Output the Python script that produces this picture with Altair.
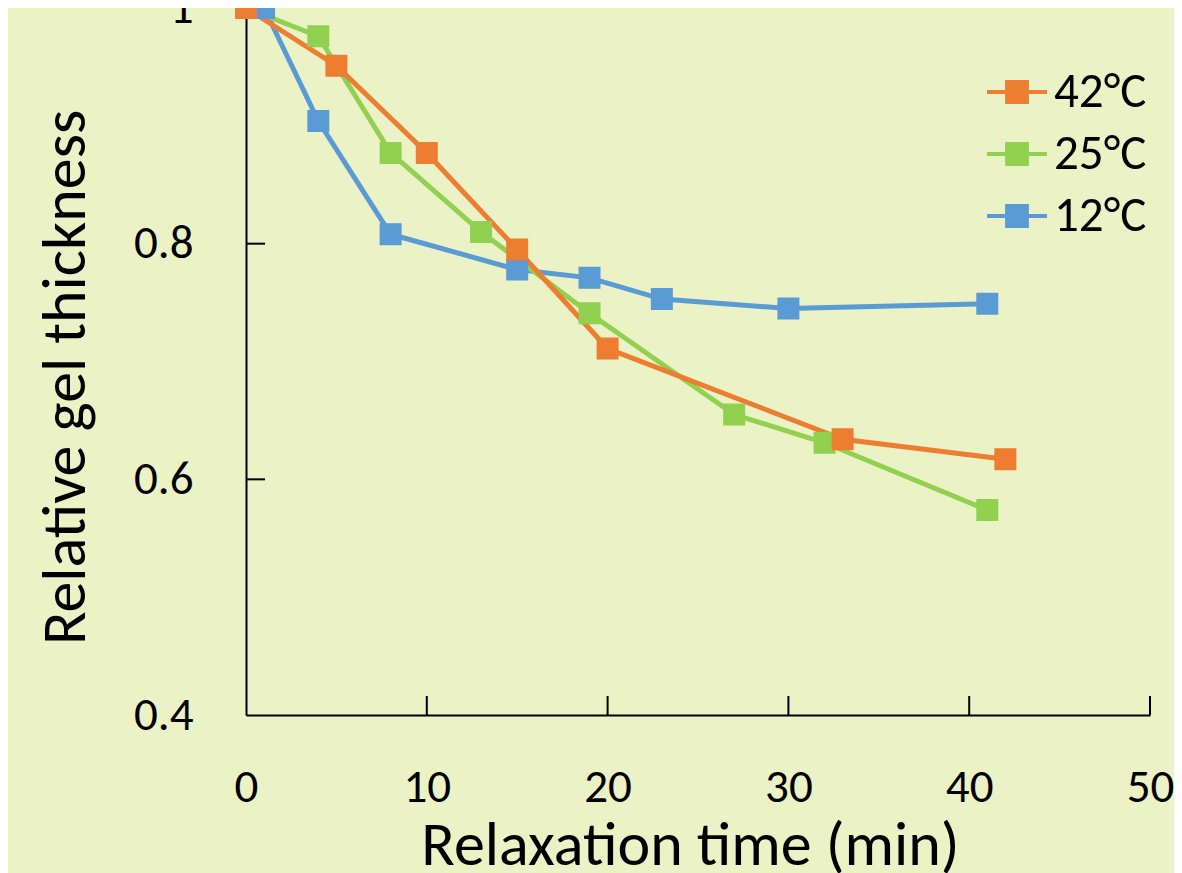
import altair as alt
import pandas as pd

series_names = ["42°C", "25°C", "12°C"]
series_colors = ["#ED7D31", "#92D050", "#5B9BD5"]

t42 = [0, 5, 10, 15, 20, 33, 42]
v42 = [1.0, 0.951, 0.877, 0.795, 0.711, 0.634, 0.617]
t25 = [0, 4, 8, 13, 19, 27, 32, 41]
v25 = [1.0, 0.976, 0.877, 0.810, 0.741, 0.655, 0.631, 0.574]
t12 = [1, 4, 8, 15, 19, 23, 30, 41]
v12 = [1.0, 0.904, 0.808, 0.778, 0.771, 0.753, 0.745, 0.749]

x_ticks = [0, 10, 20, 30, 40, 50]
y_ticks = [0.4, 0.6, 0.8, 1.0]

rows = []
for order, (name, ts, vs) in enumerate([("12°C", t12, v12), ("25°C", t25, v25), ("42°C", t42, v42)]):
    for t, v in zip(ts, vs):
        rows.append({"series": name, "t": t, "v": v, "ord": order})
df = pd.DataFrame(rows)

FONT = "Carlito, Calibri, Lato"
W, H = 904, 707
X0, X1 = 0, 50
Y0, Y1 = 0.4, 1.0
tick_len_px = 19
dx = tick_len_px * (X1 - X0) / W
dy = tick_len_px * (Y1 - Y0) / H

xs = alt.Scale(domain=[X0, X1], nice=False)
ys = alt.Scale(domain=[Y0, Y1], nice=False)
col = alt.Scale(domain=series_names, range=series_colors)

sym_path = "M-1,0L1,0M-0.33,-0.33L0.33,-0.33L0.33,0.33L-0.33,0.33Z"

legend = alt.Legend(
    title=None, orient="none", legendX=739, legendY=52,
    symbolType=sym_path, symbolSize=3600, symbolStrokeWidth=4,
    labelFont=FONT, labelFontSize=49, labelColor="black", labelOffset=5,
    rowPadding=5, padding=0,
)

x_axis = alt.Axis(
    values=x_ticks, ticks=False, tickSize=0, grid=False, labelFlush=False,
    domainColor="black", domainWidth=2,
    labelFont=FONT, labelFontSize=47, labelColor="black",
    labelPadding=86, labelBaseline="alphabetic",
    title="Relaxation time (min)", titleFont=FONT, titleFontSize=62,
    titleFontWeight="normal", titleColor="black",
    titleX=444, titleY=149, titleBaseline="alphabetic", titleAlign="center",
)
y_axis = alt.Axis(
    values=y_ticks, format="~g", ticks=False, tickSize=0, grid=False, labelFlush=False,
    domainColor="black", domainWidth=2,
    labelFont=FONT, labelFontSize=47, labelColor="black", labelPadding=53,
    title="Relative gel thickness", titleFont=FONT, titleFontSize=62,
    titleFontWeight="normal", titleColor="black",
    titleX=-181, titleY=369, titleAngle=270, titleBaseline="middle", titleAlign="center",
)

base = alt.Chart(df)

lines = base.mark_line(strokeWidth=5).encode(
    x=alt.X("t:Q", scale=xs, axis=x_axis),
    y=alt.Y("v:Q", scale=ys, axis=y_axis),
    stroke=alt.Stroke("series:N", scale=col, legend=legend),
    detail="series:N",
    order="ord:Q",
)

points = base.mark_point(shape="square", filled=True, size=400, opacity=1).encode(
    x=alt.X("t:Q", scale=xs),
    y=alt.Y("v:Q", scale=ys),
    fill=alt.Fill("series:N", scale=col, legend=legend),
    stroke=alt.Stroke("series:N", scale=col, legend=legend),
    order="ord:Q",
)

xt = pd.DataFrame({"x": x_ticks[1:], "y": [Y0] * (len(x_ticks) - 1), "y2": [Y0 + dy] * (len(x_ticks) - 1)})
x_tick_marks = alt.Chart(xt).mark_rule(color="black", strokeWidth=2).encode(
    x=alt.X("x:Q", scale=xs), y=alt.Y("y:Q", scale=ys), y2="y2:Q"
)
yt = pd.DataFrame({"y": y_ticks[1:], "x": [X0] * (len(y_ticks) - 1), "x2": [X0 + dx] * (len(y_ticks) - 1)})
y_tick_marks = alt.Chart(yt).mark_rule(color="black", strokeWidth=2).encode(
    y=alt.Y("y:Q", scale=ys), x=alt.X("x:Q", scale=xs), x2="x2:Q"
)

chart = alt.layer(x_tick_marks, y_tick_marks, lines, points).properties(
    width=W, height=H,
    autosize=alt.AutoSizeParams(type="none"),
    padding={"left": 238, "top": 0, "right": 24, "bottom": 160},
    background="#EBF2C6",
).configure_view(stroke=None)

chart.save("out.html", embed_options={"renderer": "svg", "actions": False})
